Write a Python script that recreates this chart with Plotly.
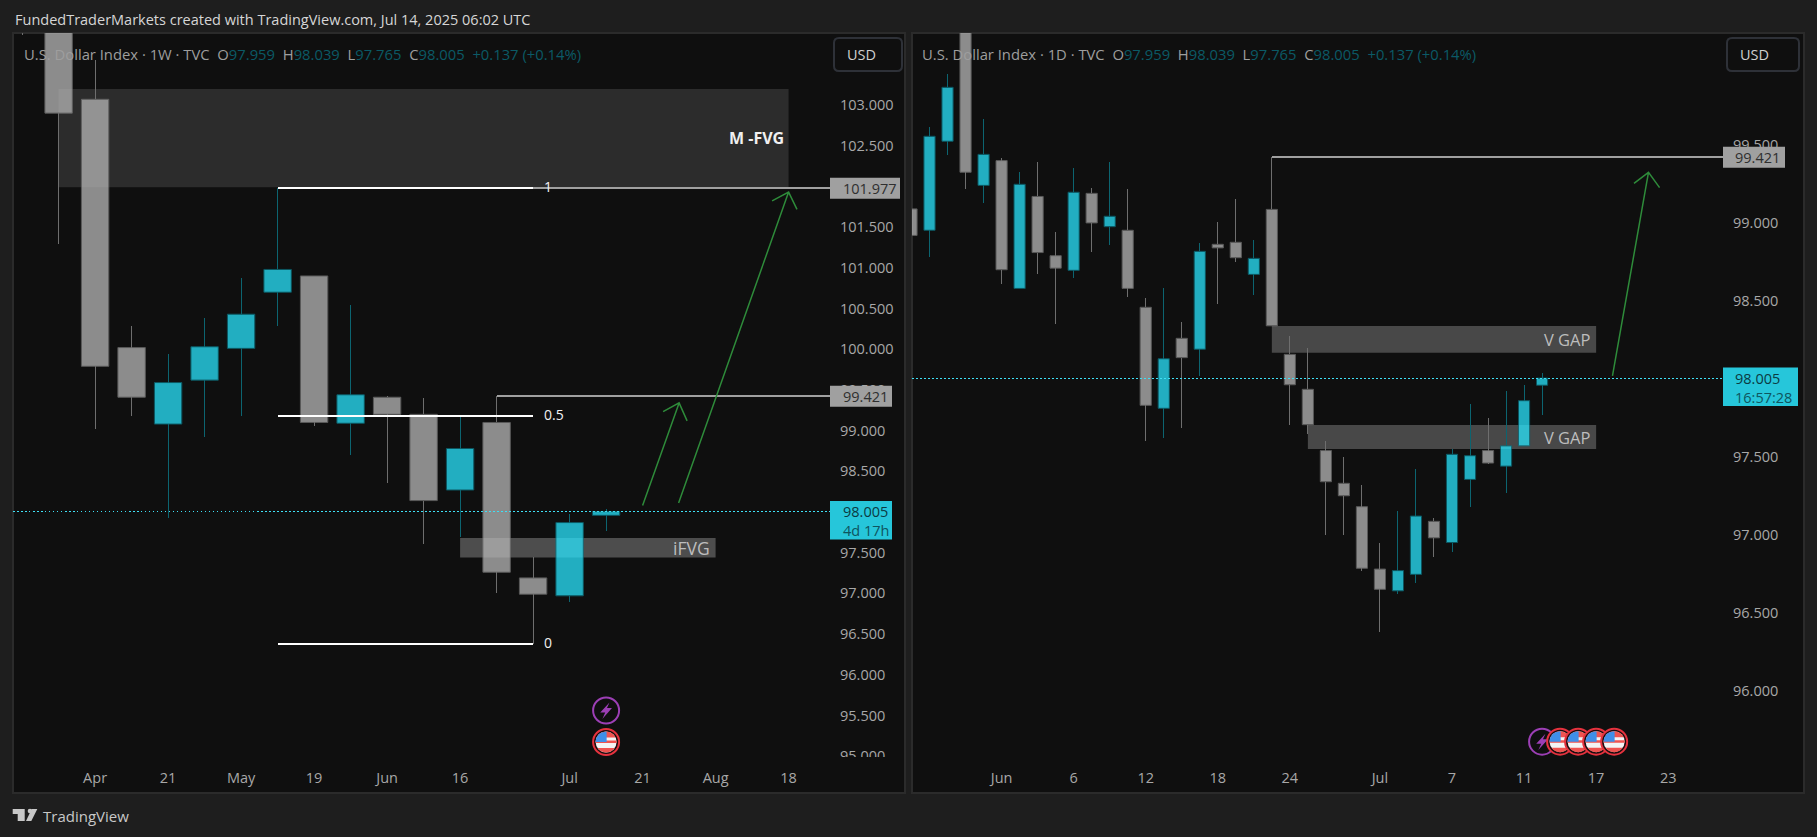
import math
import pandas as pd
import plotly.graph_objects as go

# ---------- data: weekly chart ----------
w_dates = ["2025-03-24", "2025-03-31", "2025-04-07", "2025-04-14", "2025-04-21", "2025-04-28", "2025-05-05",
           "2025-05-12", "2025-05-19", "2025-05-26", "2025-06-02", "2025-06-09", "2025-06-16", "2025-06-23",
           "2025-06-30", "2025-07-07", "2025-07-14"]
w_open = [104.60, 104.04, 103.07, 100.02, 99.08, 99.62, 100.01, 100.70, 100.90, 99.09, 99.41, 99.20, 98.27, 99.10, 97.19, 96.97, 97.959]
w_high = [105.00, 104.70, 103.55, 100.28, 99.94, 100.38, 100.87, 101.977, 100.90, 100.54, 99.43, 99.40, 99.17, 99.421, 97.45, 97.98, 98.039]
w_low = [103.86, 101.29, 99.02, 99.18, 97.93, 98.92, 99.18, 100.29, 99.06, 98.70, 98.36, 97.61, 97.69, 97.01, 96.38, 96.90, 97.765]
w_close = [104.10, 102.90, 99.79, 99.41, 99.59, 100.03, 100.43, 100.98, 99.10, 99.44, 99.20, 98.14, 98.78, 97.26, 96.99, 97.87, 98.005]
w_ticks = ["2025-04-07", "2025-04-21", "2025-05-05", "2025-05-19", "2025-06-02", "2025-06-16", "2025-07-07", "2025-07-21", "2025-08-04", "2025-08-18"]
w_ticktext = ["Apr", "21", "May", "19", "Jun", "16", "Jul", "21", "Aug", "18"]
w_price_ticks = [95, 95.5, 96, 96.5, 97, 97.5, 98.5, 99, 99.5, 100, 100.5, 101, 101.5, 102.5, 103]

# ---------- data: daily chart ----------
d_dates = ["05-26", "05-27", "05-28", "05-29", "05-30", "06-02", "06-03", "06-04", "06-05", "06-06", "06-09", "06-10",
           "06-11", "06-12", "06-13", "06-16", "06-17", "06-18", "06-19", "06-20", "06-23", "06-24", "06-25", "06-26",
           "06-27", "06-30", "07-01", "07-02", "07-03", "07-04", "07-07", "07-08", "07-09", "07-10", "07-11", "07-14"]
d_open = [99.09, 98.953, 99.524, 100.30, 99.241, 99.40, 98.58, 99.17, 98.79, 98.696, 99.19, 98.976, 98.953, 98.459, 97.811, 98.26,
          98.19, 98.863, 98.876, 98.67, 99.087, 98.157, 97.933, 97.54, 97.33, 97.18, 96.78, 96.64, 96.746, 97.086, 96.95, 97.355,
          97.54, 97.44, 97.57, 97.959]
d_high = [99.12, 99.615, 99.955, 100.54, 99.667, 99.415, 99.327, 99.39, 98.94, 99.35, 99.224, 99.39, 99.218, 98.517, 98.58, 98.365,
          98.87, 99.006, 99.154, 98.89, 99.421, 98.275, 98.196, 97.60, 97.50, 97.32, 96.95, 97.15, 97.42, 97.105, 97.55, 97.84,
          97.747, 97.92, 97.96, 98.039]
d_low = [98.90, 98.78, 99.438, 99.22, 99.13, 98.61, 98.58, 98.67, 98.354, 98.65, 98.816, 98.86, 98.527, 97.603, 97.62, 97.687,
         98.02, 98.48, 98.75, 98.538, 98.34, 97.706, 97.646, 97.00, 97.00, 96.77, 96.378, 96.62, 96.69, 96.857, 96.89, 97.18,
         97.456, 97.27, 97.57, 97.765]
d_close = [98.92, 99.556, 99.87, 99.325, 99.44, 98.70, 99.248, 98.81, 98.71, 99.197, 99.00, 99.043, 98.58, 97.83, 98.129, 98.136,
           98.818, 98.84, 98.777, 98.773, 98.34, 97.962, 97.706, 97.34, 97.25, 96.785, 96.65, 96.77, 97.12, 96.98, 97.516, 97.507,
           97.46, 97.57, 97.86, 98.005]
d_ticks = ["06-02", "06-06", "06-12", "06-18", "06-24", "07-01", "07-07", "07-11", "07-17", "07-23"]
d_ticktext = ["Jun", "6", "12", "18", "24", "Jul", "7", "11", "17", "23"]
d_price_ticks = [96, 96.5, 97, 97.5, 98.5, 99, 99.5]

last_price = 98.005
target_daily_high = 99.421
fib_high, fib_low = 101.977, 96.38

# ---------- look ----------
W, H = 1817, 837
FONT = "Open Sans"
PAGE, PANE, EDGE = "#1e1e1e", "#0f0f0f", "#2b2b2b"
# candle colours are drawn at BODY_ALPHA so that the zones show through them
BODY_ALPHA = 0.74
UP_FILL, UP_LINE, UP_WICK = "#29e6ff", "#0b6e7c", "#0c6470"
DN_FILL, DN_LINE, DN_WICK = "#b8b8b8", "#737373", "#6e6e6e"
CYAN = "#26c6da"
GREY = "#a0a0a0"
GREEN = "#2e8b3a"


def px(x):
    return x / W


def py(y):
    return 1 - y / H


def day(s):
    return f"2025-{s} 12:00"


shapes, annots, traces = [], [], []


def candles(dates, o, h, l, c, width_ms, xa, ya):
    lower = [min(a, b) for a, b in zip(o, c)]
    upper = [max(a, b) for a, b in zip(o, c)]
    rising = [b >= a for a, b in zip(o, c)]
    traces.append(go.Bar(
        x=dates, y=[u - v for u, v in zip(upper, lower)], base=lower, width=width_ms,
        marker=dict(color=[UP_FILL if r else DN_FILL for r in rising], opacity=BODY_ALPHA,
                    line=dict(color=[UP_LINE if r else DN_LINE for r in rising], width=1)),
        xaxis=xa, yaxis=ya, hoverinfo="skip", showlegend=False))
    for flag, col in ((True, UP_WICK), (False, DN_WICK)):
        xs, ys = [], []
        for d, hi, lo, top, bot, r in zip(dates, h, l, upper, lower, rising):
            if r == flag:
                xs += [d, d, None, d, d, None]
                ys += [hi, top, None, bot, lo, None]
        traces.append(go.Scatter(x=xs, y=ys, mode="lines", line=dict(color=col, width=1),
                                 xaxis=xa, yaxis=ya, hoverinfo="skip", showlegend=False))


def level(x0, x1, y, color, width, xa, ya, dash="solid"):
    traces.append(go.Scatter(x=[x0, x1], y=[y, y], mode="lines", line=dict(color=color, width=width, dash=dash),
                             xaxis=xa, yaxis=ya, hoverinfo="skip", showlegend=False))


def zone(x0, x1, y0, y1, alpha, xa, ya):
    shapes.append(dict(type="rect", xref=xa, yref=ya, x0=x0, x1=x1, y0=y0, y1=y1, layer="below",
                       fillcolor=f"rgba(255,255,255,{alpha})", line_width=0))


def text(x, y, s, size=14, color="#c8c8c8", anchor="left", xref="paper", yref="paper", xshift=0, yshift=0, bold=False):
    annots.append(dict(x=x, y=y, xref=xref, yref=yref, text=f"<b>{s}</b>" if bold else s, showarrow=False,
                       xanchor=anchor, yanchor="middle", xshift=xshift, yshift=yshift, align="left",
                       font=dict(family=FONT, size=size, color=color)))


def arrow(date, price, xa, ya, start, wing1, wing2, dx=0):
    f = lambda p: f"{p[0] + dx} {p[1]}"
    tip = (0, 0)
    path = f"M{f(start)} L{f(tip)} M{f(wing1)} L{f(tip)} L{f(wing2)}"
    shapes.append(dict(type="path", xref=xa, yref=ya, xsizemode="pixel", ysizemode="pixel", xanchor=date, yanchor=price,
                       path=path, line=dict(color=GREEN, width=1.5), fillcolor="rgba(0,0,0,0)", layer="above"))


def tag(x0, x1, price, ya, fill, lines, text_x):
    """Price label on the scale; a second line makes the box grow downwards from the price."""
    below = 10.5 if len(lines) == 1 else 28
    shapes.append(dict(type="rect", xref="paper", yref=ya, ysizemode="pixel", yanchor=price, x0=px(x0), x1=px(x1),
                       y0=-below, y1=10.5, fillcolor=fill, line_width=0, layer="above"))
    for i, (s, col) in enumerate(lines):
        text(px(text_x), price, s, size=14.5, color=col, yref=ya, yshift=-19 * i)


def poly(date, ypx, xa, pts, fill):
    path = "M" + " L".join(f"{a:.2f} {b:.2f}" for a, b in pts) + " Z"
    shapes.append(dict(type="path", xref=xa, yref="paper", xsizemode="pixel", ysizemode="pixel", xanchor=date,
                       yanchor=py(ypx), path=path, fillcolor=fill, line_width=0, layer="above"))


def circle(date, ypx, xa, r, fill, line, lw):
    shapes.append(dict(type="circle", xref=xa, yref="paper", xsizemode="pixel", ysizemode="pixel", xanchor=date,
                       yanchor=py(ypx), x0=-r, x1=r, y0=-r, y1=r, fillcolor=fill, line=dict(color=line, width=lw),
                       layer="above"))


def band(r, a, b, xmin=None, xmax=None):
    """Part of a circle of radius r lying between heights a and b."""
    n = 10
    ys = [a + (b - a) * i / n for i in range(n + 1)]
    rs = [math.sqrt(max(r * r - t * t, 0)) for t in ys]
    right = [(min(v, xmax) if xmax is not None else v, t) for v, t in zip(rs, ys)]
    left = [(max(-v, xmin) if xmin is not None else -v, t) for v, t in zip(rs, ys)]
    return right + left[::-1]


def flag_icon(date, ypx, xa):
    circle(date, ypx, xa, 13, "#1c0d0f", "#e5323e", 2)
    r = 10.5
    circle(date, ypx, xa, r, "#f4f4f4", "#f4f4f4", 0)
    for a, b in ((4.5, r), (-1, 1.5), (-r, -6)):
        poly(date, ypx, xa, band(r, a, b), "#ef5350")
    poly(date, ypx, xa, band(r, 0, r, xmax=0.5), "#3f8fe8")


def bolt_icon(date, ypx, xa):
    circle(date, ypx, xa, 13, PANE, "#9c3fb5", 2)
    k = 1.25
    pts = [(2.7, 6.3), (-4.7, -1.7), (-0.7, -1.7), (-3, -6.7), (4.7, 1.9), (0.7, 1.9)]
    poly(date, ypx, xa, [(a * k, b * k) for a, b in pts], "#9c3fb5")


def rounded(x0, y0, x1, y1, rad):
    return (f"M{px(x0 + rad)} {py(y0)} L{px(x1 - rad)} {py(y0)} Q{px(x1)} {py(y0)} {px(x1)} {py(y0 + rad)} "
            f"L{px(x1)} {py(y1 - rad)} Q{px(x1)} {py(y1)} {px(x1 - rad)} {py(y1)} L{px(x0 + rad)} {py(y1)} "
            f"Q{px(x0)} {py(y1)} {px(x0)} {py(y1 - rad)} L{px(x0)} {py(y0 + rad)} Q{px(x0)} {py(y0)} {px(x0 + rad)} {py(y0)} Z")


# ---------- panes ----------
for x0, x1 in ((13, 905), (912, 1804)):
    shapes.append(dict(type="rect", xref="paper", yref="paper", x0=px(x0), x1=px(x1), y0=py(793), y1=py(33),
                       fillcolor=PANE, line=dict(color=EDGE, width=2), layer="below"))

# ---------- weekly ----------
DAY_MS = 86400000
DOTS = "1.5px,2.5px"
DOT_COLOR = "#3fe0f5"
w_t0 = pd.Timestamp("2025-03-31")
w_px = lambda x: str(w_t0 + pd.Timedelta(days=(x - 58.6) / 36.5 * 7))
w_range = [w_px(13), w_px(830)]
w_top, w_bot = 103 + 72 / 81.4, 103 - 652 / 81.4

zone("2025-03-31", "2025-08-18", 101.99, 103.197, 0.12, "x", "y")
zone("2025-06-16", "2025-08-04", 97.44, 97.68, 0.26, "x", "y")
candles(w_dates, w_open, w_high, w_low, w_close, 27.4 / 36.5 * 7 * DAY_MS, "x", "y")
fib_start, fib_end = "2025-05-12", "2025-06-30"
fib_mid = (fib_high + fib_low) / 2
level(w_range[0], w_range[1], last_price, DOT_COLOR, 1, "x", "y", DOTS)
level(fib_start, w_range[1], fib_high, GREY, 2, "x", "y")
level("2025-06-23", w_range[1], 99.421, GREY, 2, "x", "y")
for v, lab in ((fib_high, "1"), (fib_mid, "0.5"), (fib_low, "0")):
    level(fib_start, fib_end, v, "#ffffff", 2, "x", "y")
    text(fib_end, v, lab, size=14, color="#f2f2f2", xref="x", yref="y", xshift=9, yshift=1.5)
text("2025-08-18", 102.6, "M -FVG", size=16, color="#f0f0f0", anchor="right", xref="x", yref="y", xshift=-3, bold=True)
text("2025-08-04", 97.56, "iFVG", size=17.5, color="#bdbdbd", anchor="right", xref="x", yref="y", xshift=-4)
arrow("2025-08-18", 101.93, "x", "y", (-110, -311), (-16.5, -8.7), (8.4, -17.3))
arrow("2025-07-28", 99.34, "x", "y", (-36.5, -102.7), (-16, -8.7), (8, -18))
bolt_icon("2025-07-14", 710.5, "x")
flag_icon("2025-07-14", 742, "x")

# ---------- daily ----------
d_x = [day(s) for s in d_dates]
d_range = ["2025-05-26 12:40", "2025-07-28 13:00"]
d_top, d_bot = 99.5 + 112 / 155.9, 99.5 - 612 / 155.9

zone(day("06-23"), day("07-17"), 98.168, 98.339, 0.24, "x2", "y2")
zone(day("06-25"), day("07-17"), 97.55, 97.704, 0.24, "x2", "y2")
candles(d_x, d_open, d_high, d_low, d_close, 0.62 * DAY_MS, "x2", "y2")
level(d_range[0], d_range[1], last_price, DOT_COLOR, 1, "x2", "y2", DOTS)
level(day("06-23"), d_range[1], target_daily_high, GREY, 2, "x2", "y2")
text(day("07-17"), 98.255, "V GAP", size=16.5, color="#bdbdbd", anchor="right", xref="x2", yref="y2", xshift=-3)
text(day("07-17"), 97.627, "V GAP", size=16.5, color="#bdbdbd", anchor="right", xref="x2", yref="y2", xshift=-3)
arrow(day("07-22"), 99.325, "x2", "y2", (-36, -203.7), (-14.5, -11), (11.1, -15.4), dx=-1.7)
bolt_icon(day("07-14"), 741.7, "x2")
for s in ("07-15", "07-16", "07-17", "07-18"):
    flag_icon(day(s), 741.7, "x2")

# ---------- price axis covers and tags ----------
shapes.append(dict(type="rect", xref="paper", yref="paper", x0=px(830), x1=px(904), y0=py(766), y1=py(757),
                   fillcolor=PANE, line_width=0, layer="above"))
tag(830, 900, fib_high, "y", "#a0a0a0", [("101.977", "#2f2f2f")], 841)
tag(830, 892, 99.421, "y", "#a0a0a0", [("99.421", "#2f2f2f")], 841)
tag(830, 892, last_price, "y", CYAN, [("98.005", "#0b3a42"), ("4d 17h", "#0e5560")], 841)
tag(1723, 1785, target_daily_high, "y2", "#a0a0a0", [("99.421", "#2f2f2f")], 1733)
tag(1723, 1798, last_price, "y2", CYAN, [("98.005", "#0b3a42"), ("16:57:28", "#0e5560")], 1733)

for x0, x1, tx in ((834, 902, 845), (1727, 1799, 1738)):
    shapes.append(dict(type="path", xref="paper", yref="paper", path=rounded(x0, 38, x1, 71, 5), fillcolor=PANE,
                       line=dict(color="#2e3138", width=2), layer="above"))
    text(px(tx), py(55), "USD", size=14.5, color="#cfcfcf")

# ---------- legends and page text ----------
GREY_T, TEAL_T = "#9e9e9e", "#0b5a66"


def legend(x, tf):
    vals = [("O", "97.959"), ("H", "98.039"), ("L", "97.765"), ("C", "98.005")]
    s = f"<span style='color:{GREY_T}'>U.S. Dollar Index · {tf} · TVC</span>&#160;&#160;"
    for a, b in vals:
        s += f"<span style='color:{GREY_T}'>{a}</span><span style='color:{TEAL_T}'>{b}</span>&#160;&#160;"
    s += f"<span style='color:{TEAL_T}'>+0.137 (+0.14%)</span>"
    text(px(x), py(54), s, size=14.8)


legend(22, "1W")
legend(920, "1D")
text(px(13), py(20), "FundedTraderMarkets created with TradingView.com, Jul 14, 2025 06:02 UTC", size=14.5, color="#d6d6d6")
text(px(41), py(816), "TradingView", size=15, color="#c8c8c8")

LOGO = "#c8c8c8"
for pts in ([(12.7, 809), (24.7, 809), (24.7, 821), (17.7, 821), (17.7, 814), (12.7, 814)],
            [(31.7, 809), (37.3, 809), (31.3, 821), (26, 821)]):
    shapes.append(dict(type="path", xref="paper", yref="paper", fillcolor=LOGO, line_width=0, layer="above",
                       path="M" + " L".join(f"{px(a)} {py(b)}" for a, b in pts) + " Z"))
shapes.append(dict(type="circle", xref="paper", yref="paper", x0=px(27.7), x1=px(32.3), y0=py(813.3), y1=py(808.7),
                   fillcolor=LOGO, line_width=0, layer="above"))

# ---------- figure ----------
TICK = dict(family=FONT, size=14.5, color="#a8a8a8")


def xaxis(rng, domain, ticks, labels, anchor, **kw):
    return dict(type="date", range=rng, domain=domain, tickmode="array", tickvals=ticks, ticktext=labels, anchor=anchor,
                showgrid=False, zeroline=False, showline=False, ticks="", tickfont=TICK, ticklabelstandoff=10,
                automargin=False, **kw)


def yaxis(rng, domain, anchor, ticks):
    return dict(range=rng, domain=domain, side="right", anchor=anchor, tickmode="array", tickvals=ticks, tickformat=".3f",
                showgrid=False, zeroline=False, showline=False, ticks="", tickfont=TICK, ticklabelstandoff=9,
                automargin=False)


fig = go.Figure(traces)
fig.update_layout(
    width=W, height=H, margin=dict(l=0, r=0, t=0, b=0), autosize=False,
    paper_bgcolor=PAGE, plot_bgcolor=PANE, showlegend=False, barmode="overlay", hovermode=False,
    xaxis=xaxis(w_range, [px(13), px(830)], w_ticks, w_ticktext, "y"),
    yaxis=yaxis([w_bot, w_top], [py(757), py(33)], "x", w_price_ticks),
    xaxis2=xaxis(d_range, [px(912), px(1723)], [day(s) for s in d_ticks], d_ticktext, "y2",
                 rangebreaks=[dict(bounds=["sat", "mon"])]),
    yaxis2=yaxis([d_bot, d_top], [py(757), py(33)], "x2", d_price_ticks),
    shapes=shapes, annotations=annots,
)

css = ".scatterlayer path.js-line{shape-rendering:crispEdges}"
fig.write_html(
    "out.html",
    config=dict(displayModeBar=False, responsive=False),
    post_script=("document.body.style.margin='0';document.body.style.overflow='hidden';"
                 f"var s=document.createElement('style');s.innerHTML='{css}';document.head.appendChild(s);"),
)
